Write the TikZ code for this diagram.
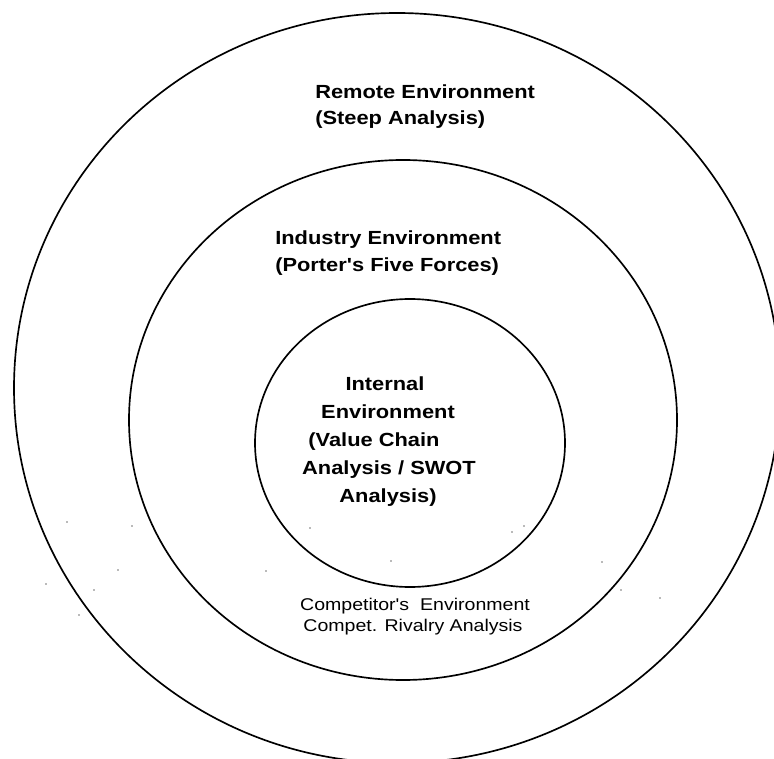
\documentclass[tikz,border=0pt]{standalone}
\usepackage{fontspec}
\newfontfamily\lblfont[FakeStretch=1.15]{Liberation Sans}
\begin{document}
\begin{tikzpicture}[x=0.75pt,y=-0.75pt,
  ring/.style={draw=black,line width=1.25pt},
  boldlbl/.style={inner sep=0pt,font=\lblfont\bfseries\fontsize{14.25pt}{17pt}\selectfont},
  reglbl/.style={inner sep=0pt,font=\lblfont\fontsize{12.75pt}{15pt}\selectfont},
  speck/.style={fill=black!55,draw=none}]
\useasboundingbox (0,0) rectangle (774,759);
\clip (0,0) rectangle (774,759);
% rings
\draw[ring] (397,388) ellipse [x radius=383, y radius=375];
\draw[ring] (403,420) ellipse [x radius=274, y radius=260];
\draw[ring] (410,443) ellipse [x radius=155, y radius=144];
% remote environment
\node[boldlbl,anchor=base west] (remote1) at (315,99) {Remote Environment};
\node[boldlbl,anchor=base west] (remote2) at (315,125) {(Steep Analysis)};
% industry environment
\node[boldlbl,anchor=base west] (industry1) at (275,245) {Industry Environment};
\node[boldlbl,anchor=base west] (industry2) at (275,272) {(Porter's Five Forces)};
% internal environment
\node[boldlbl,anchor=base] (internal1) at (385,390) {Internal};
\node[boldlbl,anchor=base] (internal2) at (388,418) {Environment};
\node[boldlbl,anchor=base] (internal3) at (374,446) {(Value Chain};
\node[boldlbl,anchor=base] (internal4) at (389,474) {Analysis / SWOT};
\node[boldlbl,anchor=base] (internal5) at (388,502) {Analysis)};
% competitor's environment
\node[reglbl,anchor=base] (comp1) at (415,610) {Competitor's\ \ Environment};
\node[reglbl,anchor=base] (comp2) at (413,631) {Compet. Rivalry Analysis};
% faint specks
\foreach \p in {(67,522),(132,526),(46,584),(118,570),(94,590),(79,615),
                (266,571),(310,528),(391,561),(512,532),(524,526),(602,562),
                (621,590),(660,598)}
  \fill[speck] \p circle [radius=0.8];
\end{tikzpicture}
\end{document}
